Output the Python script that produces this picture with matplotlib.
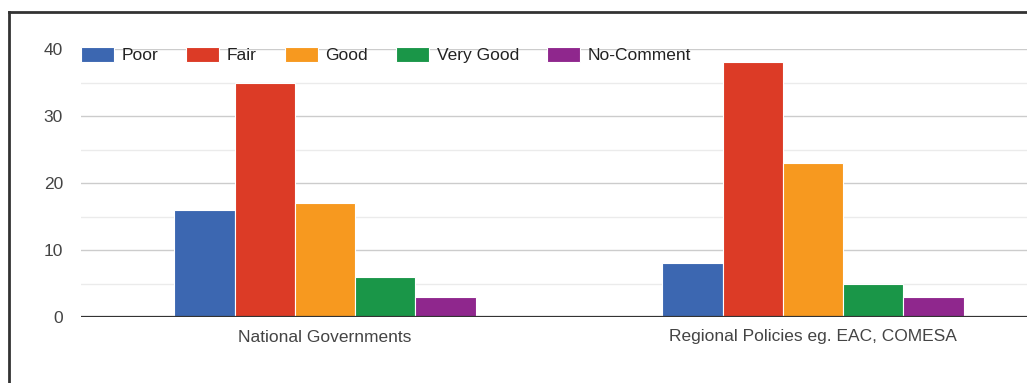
import matplotlib
matplotlib.use("Agg")
import matplotlib.pyplot as plt
import numpy as np
from matplotlib.lines import Line2D

# Data
categories = ["National Governments", "Regional Policies eg. EAC, COMESA"]
series = ["Poor", "Fair", "Good", "Very Good", "No-Comment"]
values = {
    "Poor": [16, 8],
    "Fair": [35, 38],
    "Good": [17, 23],
    "Very Good": [6, 5],
    "No-Comment": [3, 3],
}
colors = ["#3c67b1", "#dc3b26", "#f7991f", "#1a9648", "#8f278d"]
yticks = [0, 10, 20, 30, 40]

plt.rcParams["font.family"] = ["Liberation Sans", "DejaVu Sans"]

fig = plt.figure(figsize=(10.27, 3.83), dpi=100)
W, H = 1027, 383
# plot area: left 81px, right 1057px (runs off the image), baseline y=317, top y=49
ax = fig.add_axes([81 / W, (H - 317) / H, 976 / W, 268 / H])

x = np.arange(len(categories))
w = 0.1235
for j, name in enumerate(series):
    ax.bar(x + (j - 2) * w, values[name], width=w, color=colors[j],
           edgecolor="white", linewidth=0.8, label=name, zorder=3)

ax.set_xlim(-0.5, 1.5)
ax.set_ylim(0, 40)
ax.set_yticks(yticks)
ax.set_yticks([5, 15, 25, 35], minor=True)
ax.set_xticks(x)
ax.set_xticklabels(categories)

ax.grid(axis="y", which="major", color="#cccccc", linewidth=1, zorder=0)
ax.grid(axis="y", which="minor", color="#ebebeb", linewidth=1, zorder=0)
ax.tick_params(axis="both", which="both", length=0, labelsize=12.5, colors="#444444")
ax.tick_params(axis="y", pad=13)
ax.tick_params(axis="x", pad=9)
for s in ax.spines.values():
    s.set_visible(False)
ax.axhline(0, color="#333333", linewidth=1.6, zorder=4)

leg = ax.legend(loc="upper left", bbox_to_anchor=(0, 1.008), ncol=5, frameon=False,
                fontsize=12.5, handlelength=1.9, handleheight=0.95, handletextpad=0.45,
                columnspacing=1.6, borderaxespad=0, borderpad=0)
for t in leg.get_texts():
    t.set_color("#222222")

# outer frame (left and top edges)
fig.add_artist(Line2D([9 / W, 9 / W], [0, (H - 12) / H], color="#333333", linewidth=2))
fig.add_artist(Line2D([9 / W, 1], [(H - 12) / H, (H - 12) / H], color="#333333", linewidth=2))

fig.savefig("out.png", dpi=100)
